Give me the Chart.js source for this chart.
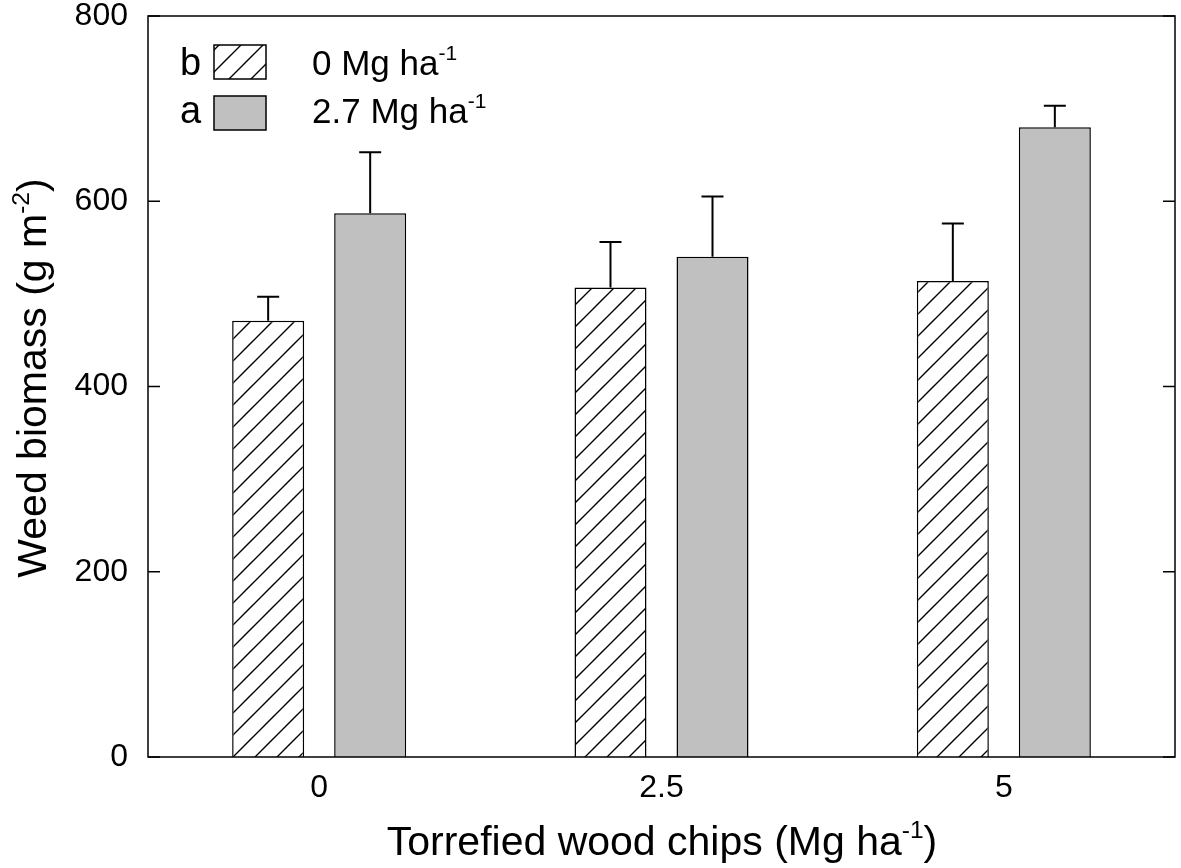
<!DOCTYPE html>
<html>
<head>
<meta charset="utf-8">
<script src="https://cdn.jsdelivr.net/npm/chart.js@4.4.1/dist/chart.umd.min.js"></script>
<style>
  body { margin: 0; background: #fff; }
</style>
</head>
<body>
<canvas id="myChart" width="1181" height="868"></canvas>
<script>
// data
const categories = ['0', '2.5', '5'];
const noBiochar = [471, 507, 514];
const noBiocharSE = [26, 49, 62];
const withBiochar = [587, 540, 680];
const withBiocharSE = [66, 65, 23];
const yTicks = [0, 200, 400, 600, 800];
const seriesNames = ['0 Mg ha', '2.7 Mg ha'];
const seriesLetters = ['b', 'a'];

const FONT = "'Liberation Sans', Arial, sans-serif";

function hatchPattern() {
    const size = 22;
    const c = document.createElement('canvas');
    c.width = size;
    c.height = size;
    const g = c.getContext('2d');
    g.fillStyle = '#fff';
    g.fillRect(0, 0, size, size);
    g.strokeStyle = '#000';
    g.lineWidth = 1.4;
    g.beginPath();
    g.moveTo(-2, size + 2);
    g.lineTo(size + 2, -2);
    g.moveTo(-2, 2);
    g.lineTo(2, -2);
    g.moveTo(size - 2, size + 2);
    g.lineTo(size + 2, size - 2);
    g.stroke();
    return document.getElementById('myChart').getContext('2d').createPattern(c, 'repeat');
}
const hatch = hatchPattern();

// text with superscript pieces, centred on x
function drawRich(ctx, parts, x, y, size) {
    let total = 0;
    parts.forEach(p => {
        ctx.font = (p.sup ? size * 0.6 : size) + 'px ' + FONT;
        p.w = ctx.measureText(p.t).width;
        total += p.w;
    });
    let cx = x - total / 2;
    parts.forEach(p => {
        ctx.font = (p.sup ? size * 0.6 : size) + 'px ' + FONT;
        ctx.fillText(p.t, cx, p.sup ? y - size * 0.42 : y);
        cx += p.w;
    });
}

function drawLeftRich(ctx, parts, x, y, size) {
    let w = 0;
    parts.forEach(p => {
        ctx.font = (p.sup ? size * 0.6 : size) + 'px ' + FONT;
        w += ctx.measureText(p.t).width;
    });
    drawRich(ctx, parts, x + w / 2, y, size);
}

const decorations = {
    id: 'decorations',
    afterDatasetsDraw(chart) {
        const ctx = chart.ctx;
        const area = chart.chartArea;
        const y = chart.scales.y;
        const errs = [noBiocharSE, withBiocharSE];
        const vals = [noBiochar, withBiochar];

        ctx.save();
        ctx.strokeStyle = '#000';
        ctx.lineWidth = 2;
        // error bars, upper only
        for (let i = 0; i < 2; i++) {
            const meta = chart.getDatasetMeta(i);
            meta.data.forEach((bar, j) => {
                const top = y.getPixelForValue(vals[i][j] + errs[i][j]);
                ctx.beginPath();
                ctx.moveTo(bar.x, bar.y);
                ctx.lineTo(bar.x, top);
                ctx.moveTo(bar.x - 11, top);
                ctx.lineTo(bar.x + 11, top);
                ctx.stroke();
            });
        }

        // frame and inward ticks
        ctx.lineWidth = 1.5;
        ctx.strokeRect(area.left, area.top, area.right - area.left, area.bottom - area.top);
        ctx.beginPath();
        yTicks.forEach(v => {
            const py = y.getPixelForValue(v);
            ctx.moveTo(area.left, py);
            ctx.lineTo(area.left + 12, py);
            ctx.moveTo(area.right, py);
            ctx.lineTo(area.right - 12, py);
        });
        ctx.stroke();

        // legend
        ctx.textBaseline = 'alphabetic';
        ctx.textAlign = 'left';
        const rows = [{ y: 45, base: 75, fill: hatch }, { y: 96, base: 123, fill: '#c0c0c0' }];
        rows.forEach((r, i) => {
            ctx.fillStyle = r.fill;
            ctx.fillRect(214, r.y, 52, 34);
            ctx.lineWidth = 1.5;
            ctx.strokeRect(214, r.y, 52, 34);
            ctx.fillStyle = '#000';
            ctx.font = '38px ' + FONT;
            ctx.fillText(seriesLetters[i], 180, r.base);
            drawLeftRich(ctx, [{ t: seriesNames[i] }, { t: '-1', sup: true }], 312, r.base, 35);
        });

        // axis titles
        drawRich(ctx, [{ t: 'Torrefied wood chips (Mg ha' }, { t: '-1', sup: true }, { t: ')' }], 662, 855, 41);
        ctx.translate(46, 378);
        ctx.rotate(-Math.PI / 2);
        drawRich(ctx, [{ t: 'Weed biomass (g m' }, { t: '-2', sup: true }, { t: ')' }], 0, 0, 41);
        ctx.restore();
    }
};

const ctx = document.getElementById('myChart').getContext('2d');
new Chart(ctx, {
    type: 'bar',
    data: {
        labels: categories,
        datasets: [{
            label: seriesNames[0],
            data: noBiochar,
            backgroundColor: hatch,
            borderColor: '#000',
            borderWidth: 1.5
        }, {
            label: seriesNames[1],
            data: withBiochar,
            backgroundColor: '#c0c0c0',
            borderColor: '#000',
            borderWidth: 1.5
        }]
    },
    options: {
        responsive: false,
        animation: false,
        categoryPercentage: 0.596,
        barPercentage: 0.706,
        layout: { padding: { top: 16, right: 6, left: 0, bottom: 0 } },
        plugins: {
            legend: { display: false },
            tooltip: { enabled: false }
        },
        scales: {
            x: {
                grid: { display: false, drawTicks: false },
                border: { display: false },
                ticks: { color: '#000', padding: 15, font: { family: FONT, size: 32, lineHeight: 1 } },
                afterFit: (scale) => {
                    scale.height = 111;
                    scale.paddingLeft = 0;
                    scale.paddingRight = 0;
                }
            },
            y: {
                min: 0,
                max: 800,
                afterBuildTicks: (scale) => { scale.ticks = yTicks.map(v => ({ value: v })); },
                grid: { display: false, drawTicks: false },
                border: { display: false },
                ticks: { color: '#000', padding: 20, font: { family: FONT, size: 32, lineHeight: 1 } },
                afterFit: (scale) => {
                    scale.width = 148;
                    scale.paddingTop = 0;
                    scale.paddingBottom = 0;
                }
            }
        }
    },
    plugins: [decorations]
});
</script>
</body>
</html>
